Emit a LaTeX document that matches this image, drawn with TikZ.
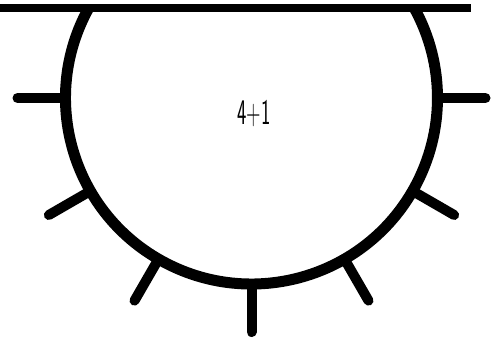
\documentclass[tikz,border=0pt]{standalone}
\usetikzlibrary{calc}
\begin{document}
\begin{tikzpicture}[x=1pt,y=1pt,
  rim/.style={line width=11pt},
  spoke/.style={line width=10pt,line cap=round},
  topline/.style={line width=8pt}]
\useasboundingbox (0,0) rectangle (493,-340);
\coordinate (c) at (251.5,-98);
\def\R{186}
% top line
\coordinate (tl) at (0,-8);
\coordinate (tr) at (471,-8);
\draw[topline] (tl) -- (tr);
% bowl
\draw[rim] ($(c)+(151.1:\R)$) arc[start angle=151.1,end angle=388.9,radius=\R];
% spokes
\foreach \a in {0,-30,-60,-90,-120,-150,180}{
  \draw[spoke] ($(c)+(\a:\R)$) -- ($(c)+(\a:234)$);
}
% label
\node[font=\sffamily\fontsize{36}{36}\selectfont,inner sep=0pt] (lbl) at (254,-114) {\scalebox{0.55}[1]{4+1}};
\end{tikzpicture}
\end{document}
